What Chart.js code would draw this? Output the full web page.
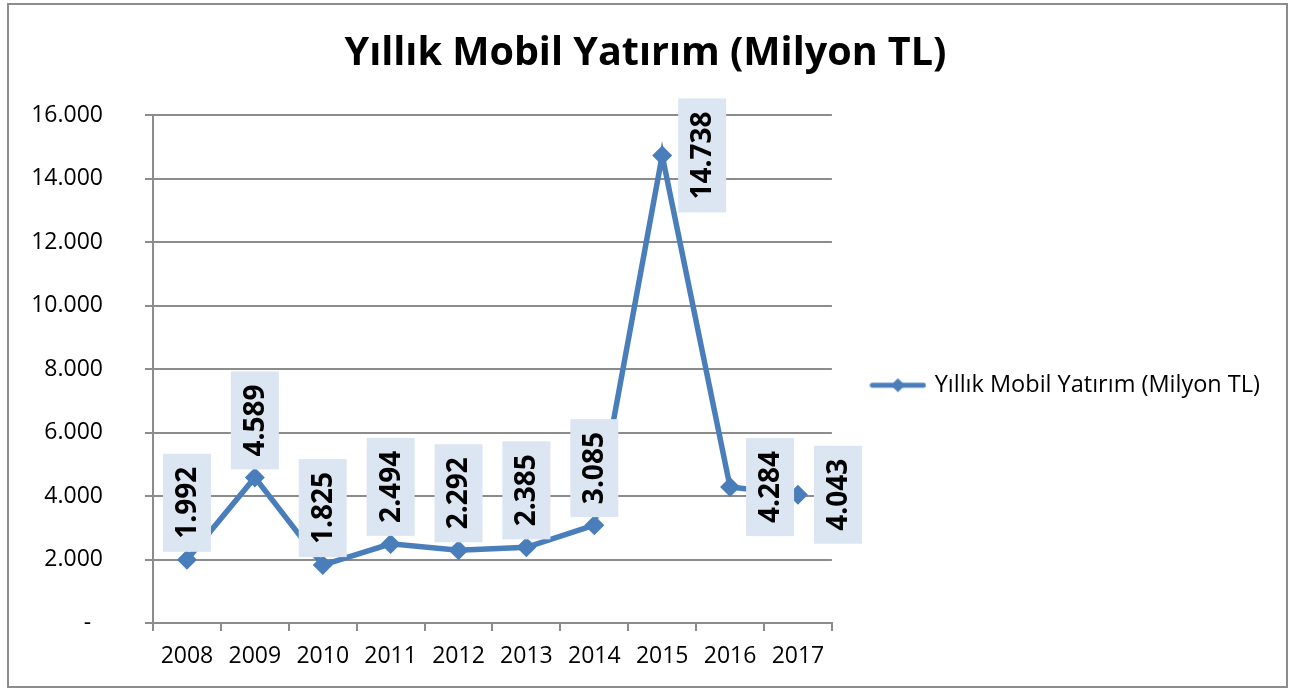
<!DOCTYPE html>
<html>
<head>
<meta charset="utf-8">
<title>Yıllık Mobil Yatırım</title>
<script src="https://cdn.jsdelivr.net/npm/chart.js@4/dist/chart.umd.min.js"></script>
<style>
  html, body { margin: 0; padding: 0; background: #ffffff; }
  #wrap { position: relative; width: 1304px; height: 689px; }
</style>
</head>
<body>
<div id="wrap"><canvas id="lineChart"></canvas></div>
<script>
// chart data
var years = ['2008', '2009', '2010', '2011', '2012', '2013', '2014', '2015', '2016', '2017'];
var investment = [1992, 4589, 1825, 2494, 2292, 2385, 3085, 14738, 4284, 4043];
var seriesName = 'Yıllık Mobil Yatırım (Milyon TL)';
var labelSide = ['top', 'top', 'top', 'top', 'top', 'top', 'top', 'right', 'right', 'right'];

var lineColor = '#4a7ebb';
var gridColor = '#8c8c8c';
var fontName = "'Open Sans', 'DejaVu Sans', sans-serif";

// turkish thousand separator
function fmt(v) {
  return String(v).replace(/\B(?=(\d{3})+(?!\d))/g, '.');
}

// legend symbol: line with diamond in the middle
function legendSymbol() {
  var c = document.createElement('canvas');
  c.width = 57;
  c.height = 22;
  var g = c.getContext('2d');
  g.strokeStyle = lineColor;
  g.lineWidth = 5;
  g.lineCap = 'round';
  g.beginPath();
  g.moveTo(3, 11);
  g.lineTo(54, 11);
  g.stroke();
  g.fillStyle = lineColor;
  g.beginPath();
  g.moveTo(28.5, 4);
  g.lineTo(35.5, 11);
  g.lineTo(28.5, 18);
  g.lineTo(21.5, 11);
  g.closePath();
  g.fill();
  return c;
}

// the layout caps a side legend at a quarter of the width, let it be wider
var wideLegend = {
  id: 'wideLegend',
  afterInit: function (chart) {
    var lg = chart.legend;
    var baseFit = lg.fit;
    lg.fit = function () {
      this.maxWidth = 600;
      baseFit.call(this);
    };
  }
};

// data labels in boxes, text turned 90 degrees
var boxLabels = {
  id: 'boxLabels',
  afterDatasetsDraw: function (chart) {
    var ctx = chart.ctx;
    var meta = chart.getDatasetMeta(0);
    ctx.save();
    ctx.font = "bold 28px " + fontName;
    meta.data.forEach(function (pt, i) {
      var text = fmt(chart.data.datasets[0].data[i]);
      var tw = ctx.measureText(text).width;
      var bw = 48;
      var bh = tw + 26;
      var bx, by;
      if (labelSide[i] === 'right') {
        bx = pt.x + 16;
        by = pt.y - bh / 2;
      } else {
        bx = pt.x - bw / 2;
        by = pt.y - 8 - bh;
      }
      ctx.fillStyle = '#dce6f2';
      ctx.fillRect(bx, by, bw, bh);
      ctx.save();
      ctx.translate(bx + bw / 2, by + bh / 2);
      ctx.rotate(-Math.PI / 2);
      ctx.fillStyle = '#000000';
      ctx.textAlign = 'center';
      ctx.textBaseline = 'middle';
      ctx.fillText(text, 0, 1);
      ctx.restore();
    });
    ctx.restore();
  }
};

// white page and grey frame around the whole chart
var frame = {
  id: 'frame',
  beforeDraw: function (chart) {
    var ctx = chart.ctx;
    ctx.save();
    ctx.fillStyle = '#ffffff';
    ctx.fillRect(0, 0, chart.width, chart.height);
    ctx.restore();
  },
  afterDraw: function (chart) {
    var ctx = chart.ctx;
    ctx.save();
    ctx.strokeStyle = '#8c8c8c';
    ctx.lineWidth = 2;
    ctx.strokeRect(8, 4, 1279, 683);
    ctx.restore();
  }
};

var showChart = new Chart(document.getElementById('lineChart'), {
  type: 'line',
  data: {
    labels: years,
    datasets: [{
      label: seriesName,
      data: investment,
      borderColor: lineColor,
      backgroundColor: lineColor,
      borderWidth: 5.5,
      tension: 0,
      pointStyle: 'rectRot',
      pointRadius: 10,
      pointHoverRadius: 10,
      pointBorderWidth: 0,
      pointBackgroundColor: lineColor
    }]
  },
  options: {
    responsive: true,
    maintainAspectRatio: false,
    animation: false,
    events: [],
    layout: {
      padding: { left: 21, right: 34, top: 0, bottom: 0 }
    },
    scales: {
      x: {
        offset: true,
        grid: {
          offset: true,
          drawOnChartArea: false,
          drawTicks: true,
          tickLength: 8,
          color: gridColor,
          lineWidth: 2
        },
        border: { color: gridColor, width: 2 },
        ticks: {
          color: '#000000',
          padding: 12,
          maxRotation: 0,
          font: { family: fontName, size: 23 }
        },
        afterFit: function (scale) { scale.height = 66; }
      },
      y: {
        min: 0,
        max: 16000,
        grid: {
          color: gridColor,
          lineWidth: 2,
          tickLength: 8
        },
        border: { color: gridColor, width: 2 },
        ticks: {
          stepSize: 2000,
          color: '#000000',
          padding: 42,
          font: { family: fontName, size: 23 },
          callback: function (value) {
            return value === 0 ? '-  ' : fmt(value);
          }
        },
        afterFit: function (scale) { scale.width = 132; }
      }
    },
    plugins: {
      title: {
        display: true,
        text: seriesName,
        color: '#000000',
        font: { family: fontName, size: 39.5, weight: 'bold' },
        padding: { top: 30, bottom: 38 }
      },
      legend: {
        display: true,
        position: 'right',
        fullSize: false,
        title: {
          display: true,
          text: ' ',
          font: { size: 10 },
          padding: { top: 0, bottom: 20 }
        },
        labels: {
          usePointStyle: true,
          pointStyle: legendSymbol(),
          pointStyleWidth: 50,
          padding: 41,
          color: '#000000',
          font: { family: fontName, size: 23.5 }
        }
      },
      tooltip: { enabled: false }
    }
  },
  plugins: [frame, wideLegend, boxLabels]
});
</script>
</body>
</html>
